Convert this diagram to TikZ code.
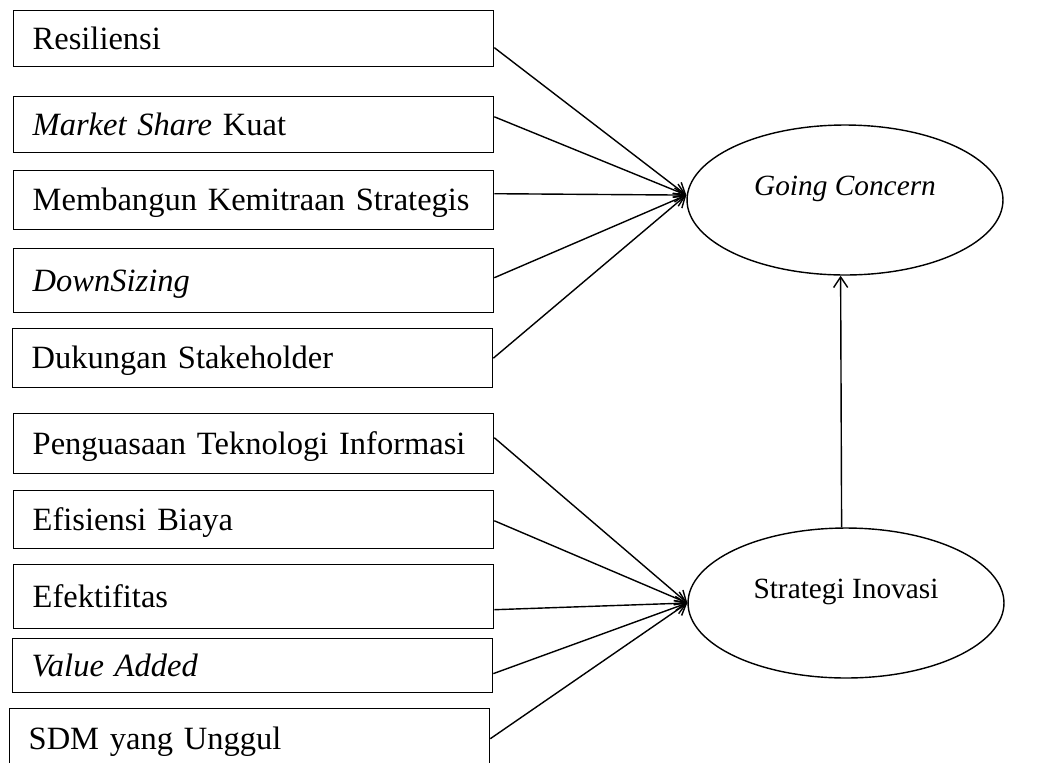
\documentclass[tikz,border=0pt]{standalone}
\usepackage{fontspec}
\setmainfont{Liberation Serif}
\usetikzlibrary{shapes.geometric,arrows.meta}

\begin{document}
\begin{tikzpicture}[x=0.02cm,y=-0.02cm,line width=0.8pt,
  >={Straight Barb[length=6pt,width=8pt]},
  ind/.style={draw,anchor=north west,minimum width=9.6cm,inner xsep=0.38cm,
    text width=8.84cm,align=left,text height=15pt,text depth=3.2pt,
    font=\fontsize{18.5}{22}\selectfont},
  lat/.style={draw,ellipse,minimum width=6.32cm,minimum height=3cm,
    text height=14pt,text depth=19.6pt,font=\fontsize{16.7}{20}\selectfont}]

\useasboundingbox (0,0) rectangle (1051,762);

\node [ind,minimum height=1.12cm] (r1) at (13,10) {Resiliensi};
\node [ind,minimum height=1.12cm] (r2) at (13,96) {\textit{Market Share} Kuat};
\node [ind,minimum height=1.18cm] (r3) at (13,170) {Membangun Kemitraan Strategis};
\node [ind,minimum height=1.28cm] (r4) at (13,248) {\textit{DownSizing}};
\node [ind,minimum height=1.18cm] (r5) at (12,328) {Dukungan Stakeholder};

\node [ind,minimum height=1.2cm] (s1) at (13,413) {Penguasaan Teknologi Informasi};
\node [ind,minimum height=1.16cm] (s2) at (13,490) {Efisiensi Biaya};
\node [ind,minimum height=1.28cm] (s3) at (13,564) {Efektifitas};
\node [ind,minimum height=1.08cm] (s4) at (12,638) {\textit{Value Added}};
\node [ind,minimum height=1.2cm] (s5) at (9,708) {SDM yang Unggul};

\node [lat] (gc) at (845,200) {\textit{Going Concern}};
\node [lat] (si) at (846,603) {Strategi Inovasi};

\draw [->] ([yshift=-5.1pt]r1.east) -- ([yshift=2.8pt]gc.west);
\draw [->] ([yshift=4.5pt]r2.east) -- ([yshift=2.8pt]gc.west);
\draw [->] ([yshift=3.7pt]r3.east) -- ([yshift=2.8pt]gc.west);
\draw [->] ([yshift=1.7pt]r4.east) -- ([yshift=2.8pt]gc.west);
\draw [->] (r5.east) -- ([yshift=2.8pt]gc.west);

\draw [->] ([yshift=3.4pt]s1.east) -- (si.west);
\draw [->] ([yshift=-0.6pt]s2.east) -- (si.west);
\draw [->] ([yshift=-7.4pt]s3.east) -- (si.west);
\draw [->] ([yshift=-4.5pt]s4.east) -- (si.west);
\draw [->] (s5.east) -- (si.west);

\draw [->] ([xshift=-2.5pt]si.north) -- ([xshift=-2.5pt]gc.south);

\end{tikzpicture}
\end{document}
